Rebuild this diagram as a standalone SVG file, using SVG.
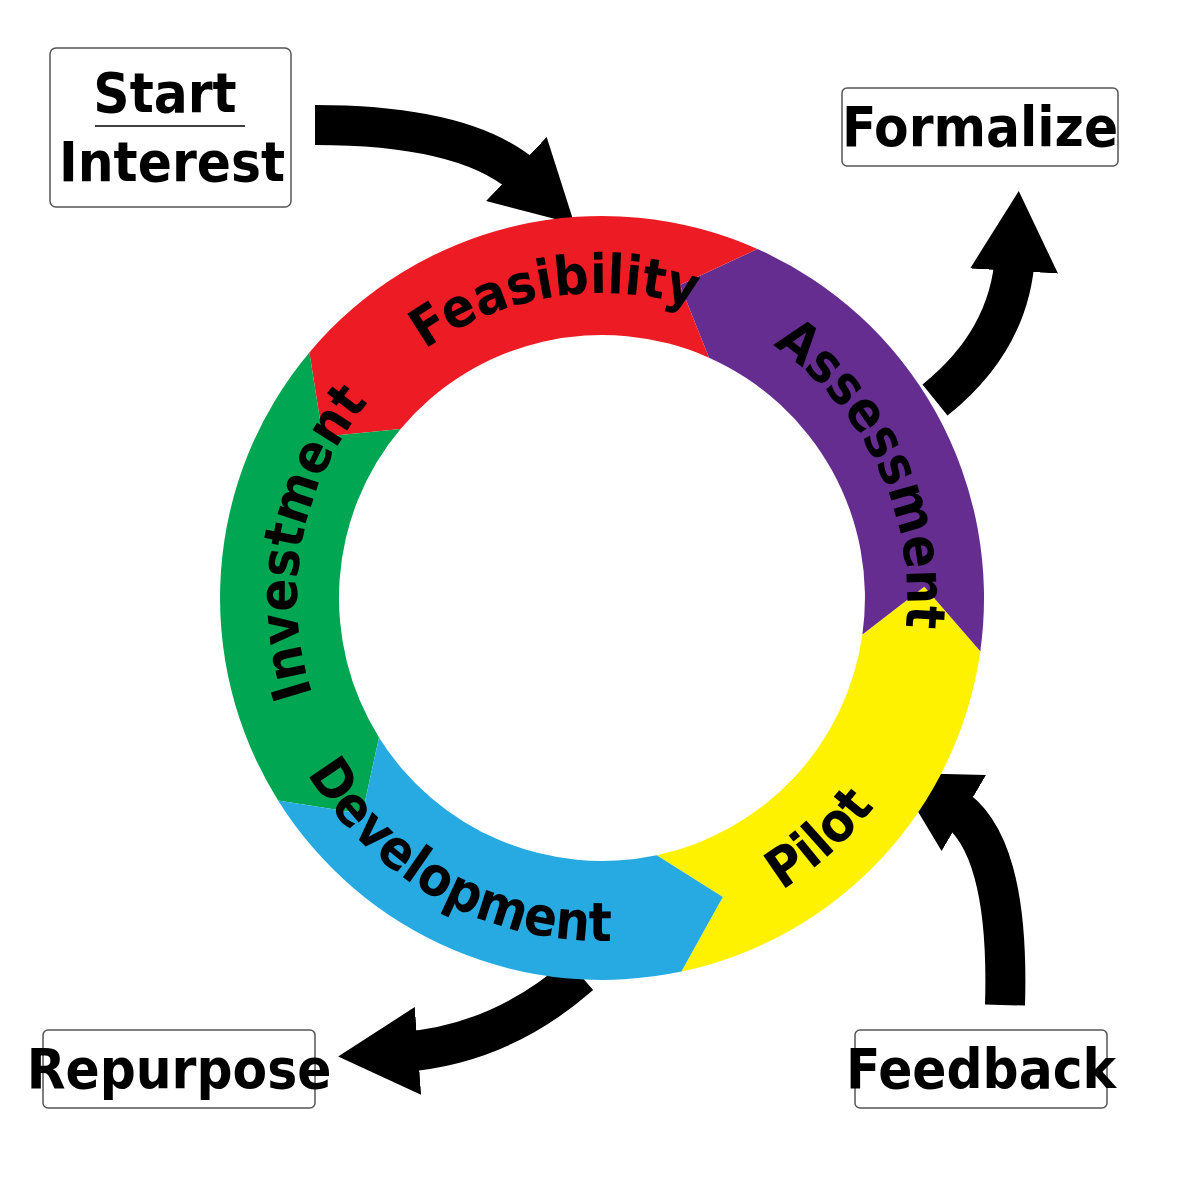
<svg xmlns="http://www.w3.org/2000/svg" xmlns:xlink="http://www.w3.org/1999/xlink" width="1200" height="1200" viewBox="0 0 1200 1200">
<style>
.lbl{font-family:"DejaVu Sans Condensed","DejaVu Sans",sans-serif;font-weight:bold;font-size:56px;fill:#000}
.ring{font-family:"DejaVu Sans Condensed","DejaVu Sans",sans-serif;font-weight:bold;font-size:54px;fill:#000}
.box{fill:#fff;stroke:#555;stroke-width:1.5}
.arr{fill:none;stroke:#000;stroke-width:40;marker-end:url(#head)}
</style>
<defs>
<marker id="head" viewBox="0 0 10 10" markerWidth="2" markerHeight="2.2" refX="2" refY="5" orient="auto" preserveAspectRatio="none"><path d="M0,0 L10,5 L0,10 z" fill="#000"/></marker>
<path id="cw" d="M602,903 A305,305 0 1 1 602,293 A305,305 0 1 1 602,903"/>
<path id="ccw" d="M602,255 A343,343 0 1 0 602,941 A343,343 0 1 0 602,255"/>
</defs>
<rect width="1200" height="1200" fill="#fff"/>
<g id="connectors">
<path class="arr" d="M315,125 Q470,125 528,180"/>
<path class="arr" d="M935,400 Q1010,340 1015,255"/>
<path class="arr" d="M580,975 Q500,1045 402,1052"/>
<path class="arr" d="M1005,1005 Q1010,840 950,805"/>
</g>
<g id="pilot"><path fill="#fff200" d="M681.4,971.6 A382,382 0 0 0 980.3,651.2 L924.3,586.7 L862.4,634.6 A263,263 0 0 1 656.7,855.2 L722.8,897.0 Z"/>
<text class="ring"><textPath xlink:href="#ccw" startOffset="61.7%" text-anchor="middle">Pilot</textPath></text></g>
<g id="assessment"><path fill="#662d91" d="M980.3,651.2 A382,382 0 0 0 757.4,249.0 L680.0,285.1 L709.0,357.7 A263,263 0 0 1 862.4,634.6 L924.3,586.7 Z"/>
<text class="ring"><textPath xlink:href="#cw" startOffset="68%" text-anchor="middle">Assessment</textPath></text></g>
<g id="feasibility"><path fill="#ed1c24" d="M757.4,249.0 A382,382 0 0 0 309.4,352.4 L322.7,436.7 L400.5,428.9 A263,263 0 0 1 709.0,357.7 L680.0,285.1 Z"/>
<text class="ring"><textPath xlink:href="#cw" startOffset="47.5%" text-anchor="middle">Feasibility</textPath></text></g>
<g id="investment"><path fill="#00a651" d="M309.4,352.4 A382,382 0 0 0 278.1,800.4 L362.3,813.8 L379.0,737.4 A263,263 0 0 1 400.5,428.9 L322.7,436.7 Z"/>
<text class="ring"><textPath xlink:href="#cw" startOffset="28%" text-anchor="middle">Investment</textPath></text></g>
<g id="development"><path fill="#27aae1" d="M278.1,800.4 A382,382 0 0 0 681.4,971.6 L722.8,897.0 L656.7,855.2 A263,263 0 0 1 379.0,737.4 L362.3,813.8 Z"/>
<text class="ring"><textPath xlink:href="#ccw" startOffset="42%" text-anchor="middle">Development</textPath></text></g>
<g id="start"><rect class="box" x="50" y="48" width="241" height="159" rx="6"/>
<text class="lbl" x="165" y="112" text-anchor="middle">Start</text>
<line x1="95" y1="126" x2="245" y2="126" stroke="#000" stroke-width="1.5"/>
<text class="lbl" x="172" y="181" text-anchor="middle">Interest</text></g>
<g id="formalize"><rect class="box" x="842" y="88" width="276" height="78" rx="5"/>
<text class="lbl" x="980" y="146" text-anchor="middle">Formalize</text></g>
<g id="repurpose"><rect class="box" x="43" y="1030" width="272" height="78" rx="5"/>
<text class="lbl" x="179" y="1088" text-anchor="middle">Repurpose</text></g>
<g id="feedback"><rect class="box" x="855" y="1030" width="252" height="78" rx="5"/>
<text class="lbl" x="981" y="1088" text-anchor="middle">Feedback</text></g>
</svg>
